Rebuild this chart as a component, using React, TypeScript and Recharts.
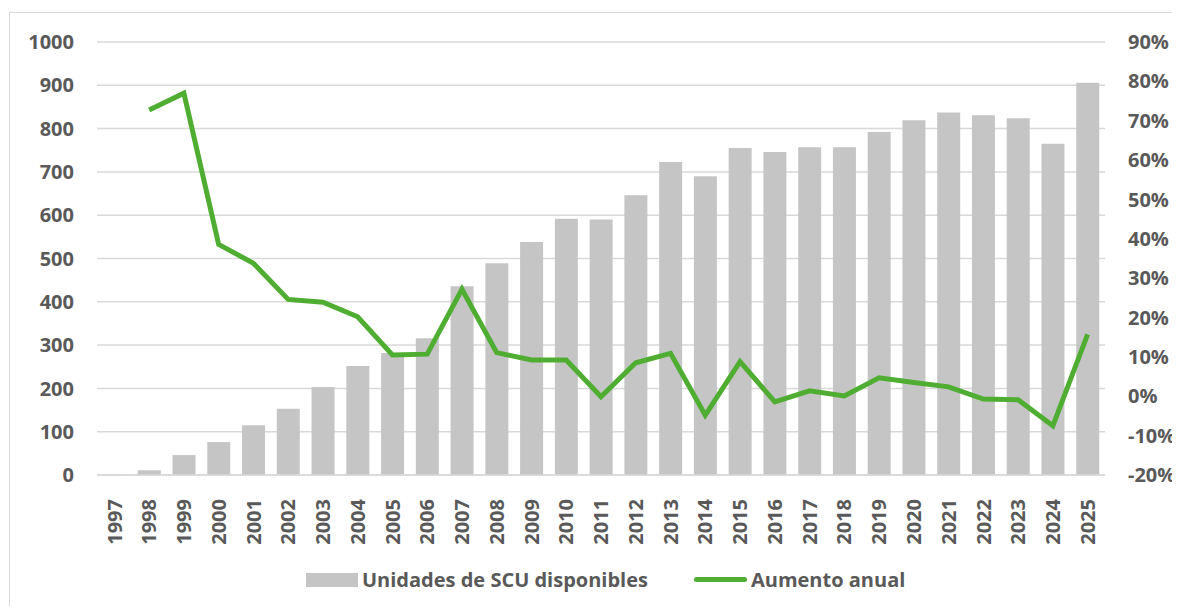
import React from "react";
import {
  Bar,
  CartesianGrid,
  ComposedChart,
  Line,
  XAxis,
  YAxis,
} from "recharts";

const YEARS = [
  "1997", "1998", "1999", "2000", "2001", "2002", "2003", "2004", "2005", "2006",
  "2007", "2008", "2009", "2010", "2011", "2012", "2013", "2014", "2015", "2016",
  "2017", "2018", "2019", "2020", "2021", "2022", "2023", "2024", "2025",
];

// unidades de SCU disponibles
const UNITS = [
  1, 11, 46, 76, 115, 153, 203, 252, 282, 316,
  436, 489, 538, 592, 590, 646, 723, 690, 755, 746,
  757, 757, 792, 819, 837, 831, 824, 765, 906,
];

// aumento anual (%)
const GROWTH: (number | null)[] = [
  null, 72.7, 77, 38.6, 33.8, 24.6, 23.9, 20.2, 10.5, 10.7,
  27.2, 11.1, 9.2, 9.2, -0.1, 8.5, 10.9, -4.8, 8.8, -1.4,
  1.4, 0.1, 4.7, 3.5, 2.4, -0.7, -0.9, -7.5, 15.7,
];

const LEFT_TICKS = [0, 100, 200, 300, 400, 500, 600, 700, 800, 900, 1000];
const RIGHT_TICKS = [-20, -10, 0, 10, 20, 30, 40, 50, 60, 70, 80, 90];

const BAR_COLOR = "#c5c5c5";
const LINE_COLOR = "#4fae32";
const TEXT_COLOR = "#595959";
const GRID_COLOR = "#d9d9d9";
const FONT = "'Open Sans', sans-serif";

const data = YEARS.map((year, i) => ({
  year,
  units: UNITS[i],
  growth: GROWTH[i],
}));

const tickStyle = {
  fill: TEXT_COLOR,
  fontSize: 20,
  fontWeight: 700,
  fontFamily: FONT,
};

function YearTick(props: any) {
  const { x, y, payload } = props;
  return (
    <text
      x={x}
      y={y + 16}
      transform={`rotate(-90, ${x}, ${y + 16})`}
      textAnchor="end"
      dy="0.36em"
      {...tickStyle}
    >
      {payload.value}
    </text>
  );
}

export default function App() {
  return (
    <div
      style={{
        position: "relative",
        left: 1,
        top: 4,
        width: 1171,
        height: 598,
        borderTop: `1.5px solid ${GRID_COLOR}`,
        borderLeft: `1.5px solid ${GRID_COLOR}`,
        boxSizing: "border-box",
        background: "#fff",
        fontFamily: FONT,
      }}
    >
      <style>{"html,body{overflow:hidden}"}</style>
      <ComposedChart
        width={1169}
        height={590}
        data={data}
        margin={{ top: 29, right: 14, left: 27, bottom: 58 }}
      >
        <CartesianGrid
          yAxisId="left"
          vertical={false}
          stroke={GRID_COLOR}
          strokeWidth={1.5}
        />
        <XAxis
          dataKey="year"
          height={70}
          interval={0}
          tickLine={false}
          axisLine={{ stroke: GRID_COLOR, strokeWidth: 1.5 }}
          tick={<YearTick />}
        />
        <YAxis
          yAxisId="left"
          width={60}
          domain={[0, 1000]}
          ticks={LEFT_TICKS}
          axisLine={false}
          tickLine={false}
          tickSize={0}
          tickMargin={23}
          tick={tickStyle}
        />
        <YAxis
          yAxisId="right"
          orientation="right"
          width={60}
          domain={[-20, 90]}
          ticks={RIGHT_TICKS}
          axisLine={false}
          tickLine={false}
          tickSize={0}
          tickMargin={23}
          tick={tickStyle}
          tickFormatter={(v: number) => `${v}%`}
        />
        <Bar
          yAxisId="left"
          dataKey="units"
          fill={BAR_COLOR}
          barSize={23}
          isAnimationActive={false}
        />
        <Line
          yAxisId="right"
          dataKey="growth"
          stroke={LINE_COLOR}
          strokeWidth={5}
          dot={false}
          activeDot={false}
          type="linear"
          isAnimationActive={false}
        />
      </ComposedChart>
      <div
        style={{
          position: "absolute",
          left: 296,
          top: 553,
          display: "flex",
          alignItems: "center",
          color: TEXT_COLOR,
          fontSize: 20,
          fontWeight: 700,
          whiteSpace: "nowrap",
        }}
      >
        <span
          style={{ width: 52, height: 14, background: BAR_COLOR, marginRight: 4 }}
        />
        <span>Unidades de SCU disponibles</span>
        <span
          style={{
            width: 53,
            height: 5,
            borderRadius: 3,
            background: LINE_COLOR,
            marginLeft: 46,
            marginRight: 4,
          }}
        />
        <span>Aumento anual</span>
      </div>
    </div>
  );
}
